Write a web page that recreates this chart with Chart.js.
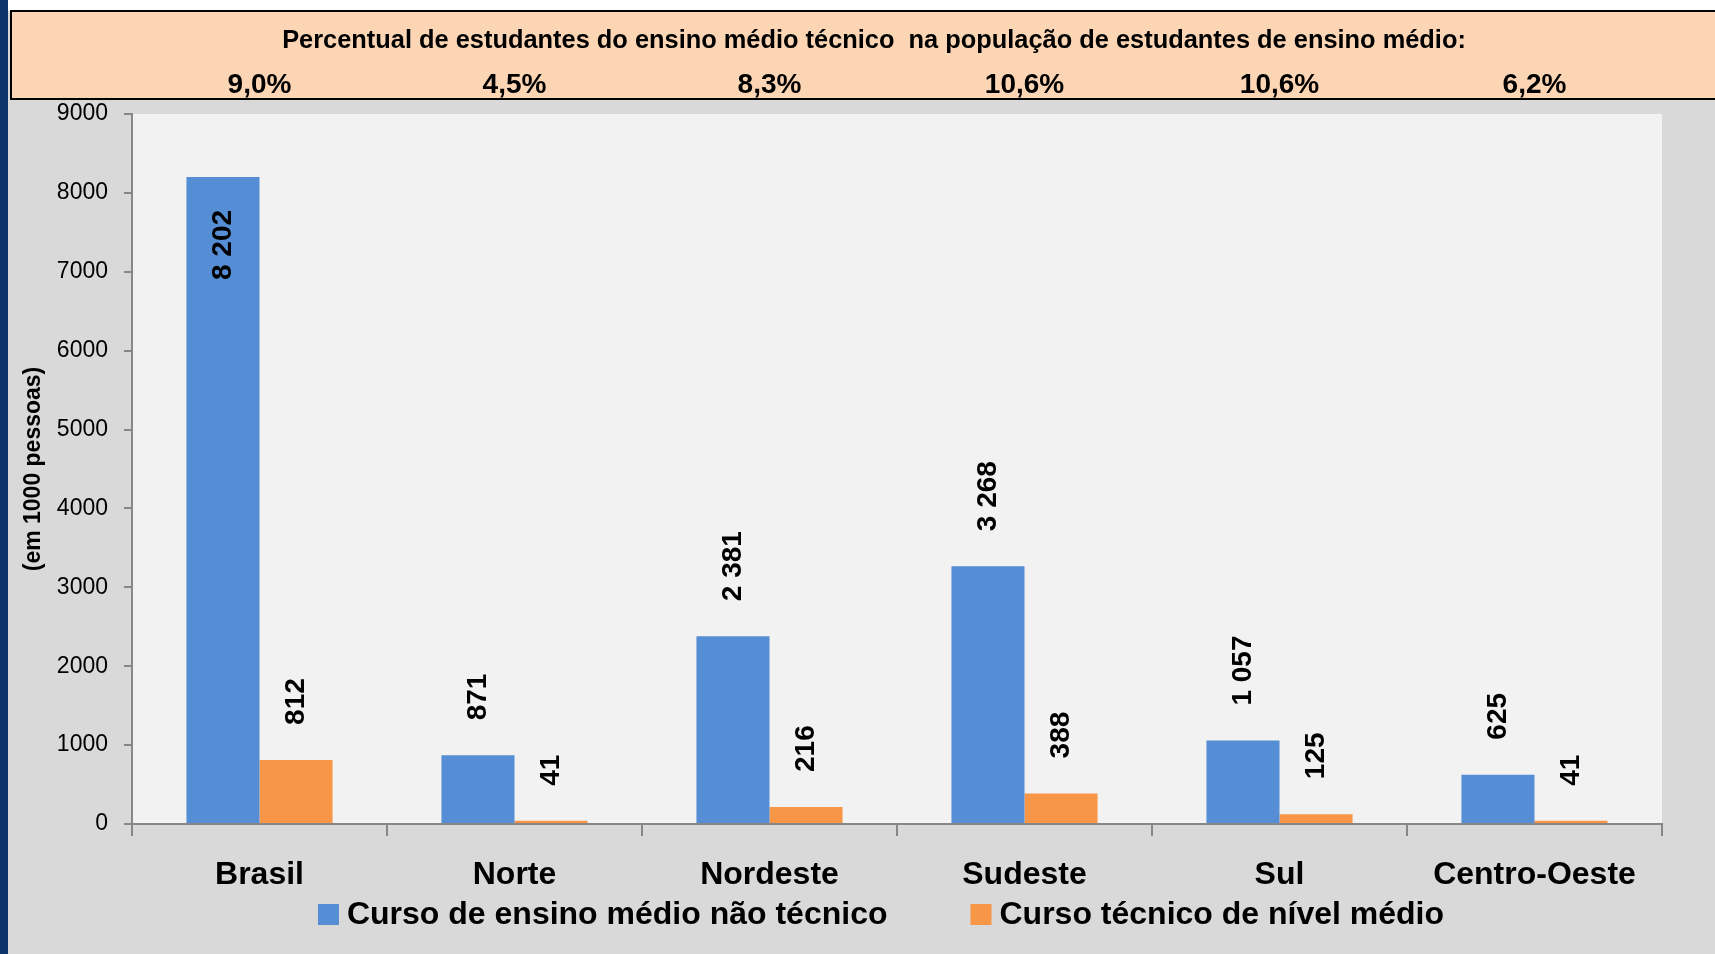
<!DOCTYPE html>
<html>
<head>
<meta charset="utf-8">
<script src="https://cdn.jsdelivr.net/npm/chart.js@4.4.1/dist/chart.umd.min.js"></script>
<style>
  html, body { margin: 0; padding: 0; background: #d9d9d9; overflow: hidden; }
  #wrap { position: relative; width: 1715px; height: 954px; }
</style>
</head>
<body>
<div id="wrap"><canvas id="chart"></canvas></div>
<script>
// dados
const regioes = ['Brasil', 'Norte', 'Nordeste', 'Sudeste', 'Sul', 'Centro-Oeste'];
const naoTecnico = [8202, 871, 2381, 3268, 1057, 625];
const tecnico = [812, 41, 216, 388, 125, 41];
const percentualTecnico = [9.0, 4.5, 8.3, 10.6, 10.6, 6.2];
const serieNomes = ['Curso de ensino médio não técnico', 'Curso técnico de nível médio'];
const serieCores = ['#558ed5', '#f79646'];
const tituloFaixa = 'Percentual de estudantes do ensino médio técnico  na população de estudantes de ensino médio:';
const tituloEixoY = '(em 1000 pessoas)';
const yMax = 9000;
const yPasso = 1000;

const FONT = '"Liberation Sans", Arial, sans-serif';
const fmtMil = v => String(v).replace(/\B(?=(\d{3})+(?!\d))/g, ' ');
const fmtPct = v => v.toFixed(1).replace('.', ',') + '%';

// fundo, faixa do topo e area do grafico
const fundo = {
    id: 'fundo',
    beforeDraw(chart) {
        const { ctx, width, height, chartArea: a } = chart;
        ctx.save();
        ctx.fillStyle = '#d9d9d9';
        ctx.fillRect(0, 0, width, height);
        ctx.fillStyle = '#ffffff';
        ctx.fillRect(0, 0, width, 11);
        ctx.fillStyle = '#fcd5b4';
        ctx.fillRect(11, 11, width - 11, 88);
        ctx.strokeStyle = '#000';
        ctx.lineWidth = 2;
        ctx.strokeRect(11, 11, width, 88);
        ctx.fillStyle = '#0c356b';
        ctx.fillRect(0, 0, 8, height);
        ctx.fillStyle = '#f2f2f2';
        ctx.fillRect(a.left, a.top, a.right - a.left, a.bottom - a.top);

        // textos da faixa
        ctx.fillStyle = '#000';
        ctx.textAlign = 'center';
        ctx.textBaseline = 'alphabetic';
        ctx.font = 'bold 25.4px ' + FONT;
        ctx.fillText(tituloFaixa, (a.left + a.right) / 2 - 23, 48);
        ctx.font = 'bold 28px ' + FONT;
        const x = chart.scales.x;
        percentualTecnico.forEach((p, i) => {
            ctx.fillText(fmtPct(p), x.getPixelForValue(i), 93);
        });
        ctx.restore();
    }
};

// rotulos verticais sobre as barras
const rotulos = {
    id: 'rotulos',
    afterDatasetsDraw(chart) {
        const { ctx, chartArea: a } = chart;
        ctx.save();
        ctx.fillStyle = '#000';
        ctx.font = 'bold 28px ' + FONT;
        ctx.textBaseline = 'middle';
        chart.data.datasets.forEach((ds, i) => {
            chart.getDatasetMeta(i).data.forEach((bar, j) => {
                const txt = fmtMil(ds.data[j]);
                const w = ctx.measureText(txt).width;
                const gap = 35;
                ctx.save();
                ctx.translate(bar.x, bar.y);
                ctx.rotate(-Math.PI / 2);
                if (bar.y - gap - w < a.top) {
                    ctx.textAlign = 'right';
                    ctx.fillText(txt, -33, 0);
                } else {
                    ctx.textAlign = 'left';
                    ctx.fillText(txt, gap, 0);
                }
                ctx.restore();
            });
        });
        ctx.restore();
    }
};

// legenda embaixo
const legenda = {
    id: 'legenda',
    afterDraw(chart) {
        const { ctx, chartArea: a } = chart;
        ctx.save();
        ctx.font = 'bold 32px ' + FONT;
        const box = 21, gapTxt = 8, gapItem = 83;
        const itens = chart.data.datasets.map(ds => ({
            txt: ds.label, cor: ds.backgroundColor, w: ctx.measureText(ds.label).width
        }));
        let total = itens.reduce((s, it) => s + box + gapTxt + it.w, 0) + gapItem * (itens.length - 1);
        let x = (a.left + a.right) / 2 - 16 - total / 2;
        const base = 924;
        ctx.textBaseline = 'alphabetic';
        ctx.textAlign = 'left';
        itens.forEach(it => {
            ctx.fillStyle = it.cor;
            ctx.fillRect(x, base - 20, box, box);
            ctx.fillStyle = '#000';
            ctx.fillText(it.txt, x + box + gapTxt, base);
            x += box + gapTxt + it.w + gapItem;
        });
        ctx.restore();
    }
};

const ctx = document.getElementById('chart').getContext('2d');
const chart = new Chart(ctx, {
    type: 'bar',
    data: {
        labels: regioes,
        datasets: [{
            label: serieNomes[0],
            data: naoTecnico,
            backgroundColor: serieCores[0],
            categoryPercentage: 0.573,
            barPercentage: 1.0
        }, {
            label: serieNomes[1],
            data: tecnico,
            backgroundColor: serieCores[1],
            categoryPercentage: 0.573,
            barPercentage: 1.0
        }]
    },
    options: {
        responsive: true,
        maintainAspectRatio: false,
        animation: false,
        layout: { padding: { top: 114, right: 53, left: 0, bottom: 0 } },
        plugins: {
            legend: { display: false },
            tooltip: { enabled: false }
        },
        scales: {
            x: {
                grid: { offset: true, drawOnChartArea: false, tickLength: 12, color: '#878787', lineWidth: 2 },
                border: { color: '#878787', width: 2 },
                ticks: {
                    color: '#000', padding: 20, maxRotation: 0, autoSkip: false,
                    font: { family: FONT, size: 32, weight: 'bold' }
                },
                afterFit: s => { s.height = 130; }
            },
            y: {
                min: 0,
                max: yMax,
                grid: { drawOnChartArea: false, tickLength: 8, color: '#878787', lineWidth: 2 },
                border: { color: '#878787', width: 2 },
                ticks: {
                    stepSize: yPasso, padding: 16, color: '#000',
                    font: { family: FONT, size: 23 },
                    callback: v => String(v)
                },
                title: {
                    display: true, text: tituloEixoY, color: '#000',
                    font: { family: FONT, size: 23, weight: 'bold' },
                    padding: { top: 20, bottom: 0 }
                },
                afterFit: s => { s.width = 132; }
            }
        }
    },
    plugins: [fundo, rotulos, legenda]
});
</script>
</body>
</html>
